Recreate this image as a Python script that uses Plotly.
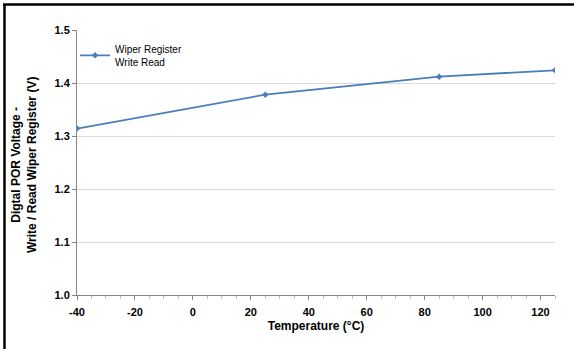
import plotly.graph_objects as go

temperature = [-40, 25, 85, 125]
voltage = [1.314, 1.378, 1.412, 1.424]
series_name = "Wiper Register<br>Write Read"
x_ticks = [-40, -20, 0, 20, 40, 60, 80, 100, 120]
y_ticks = [1.0, 1.1, 1.2, 1.3, 1.4, 1.5]

W, H = 574, 349
L, R, T, B = 77, 19, 30, 54
pw, ph = W - L - R, H - T - B

font = "Liberation Sans, Arial, sans-serif"

fig = go.Figure()
fig.add_trace(go.Scatter(
    x=temperature, y=voltage, mode="lines+markers", name=series_name,
    line=dict(color="#4A7EBB", width=1.75),
    marker=dict(symbol="diamond", size=5, color="#4A7EBB"),
))

fig.update_layout(
    width=W, height=H,
    margin=dict(l=L, r=R, t=T, b=B),
    paper_bgcolor="white", plot_bgcolor="white",
    font=dict(family=font, color="black"),
    showlegend=True,
    legend=dict(x=-0.004, y=0.978, xanchor="left", yanchor="top",
                bgcolor="rgba(0,0,0,0)", font=dict(size=10, family=font),
                itemwidth=30, tracegroupgap=0),
    xaxis=dict(
        range=[-40, 125], tickvals=x_ticks, ticktext=[str(v) for v in x_ticks],
        showgrid=False, zeroline=False, showline=True, linecolor="#868686", linewidth=1,
        ticks="outside", ticklen=4, tickcolor="#868686", ticklabelstandoff=3,
        minor=dict(dtick=5, tick0=0, ticks="outside", ticklen=3, tickcolor="#bfbfbf", showgrid=False),
        tickfont=dict(size=11, family=font, weight="bold"),
        title=dict(text="Temperature (°C)", font=dict(size=12, family=font, weight="bold"), standoff=4),
    ),
    yaxis=dict(
        range=[1.0, 1.5], tickvals=y_ticks, ticktext=[f"{v:.1f}" for v in y_ticks],
        showgrid=True, gridcolor="#D9D9D9", gridwidth=1, zeroline=False,
        showline=True, linecolor="#868686", linewidth=1,
        ticks="outside", ticklen=4, tickcolor="#868686",
        tickfont=dict(size=11, family=font, weight="bold"),
    ),
    annotations=[dict(
        text="Digtal POR Voltage -<br>Write / Read Wiper Register (V)",
        xref="paper", yref="paper", x=(24 - L) / pw, y=(H - B - 165) / ph,
        xanchor="center", yanchor="middle", textangle=-90, showarrow=False,
        font=dict(size=12, family=font, weight="bold"),
    )],
    shapes=[
        dict(type="line", xref="paper", yref="paper",
             x0=(4.5 - L) / pw, x1=(4.5 - L) / pw, y0=(H - B - H) / ph, y1=(H - B - 4) / ph,
             line=dict(color="black", width=2.5)),
        dict(type="line", xref="paper", yref="paper",
             x0=(3 - L) / pw, x1=(W - L) / pw, y0=(H - B - 4.5) / ph, y1=(H - B - 4.5) / ph,
             line=dict(color="black", width=2.5)),
    ],
)

fig.write_html("out.html")
